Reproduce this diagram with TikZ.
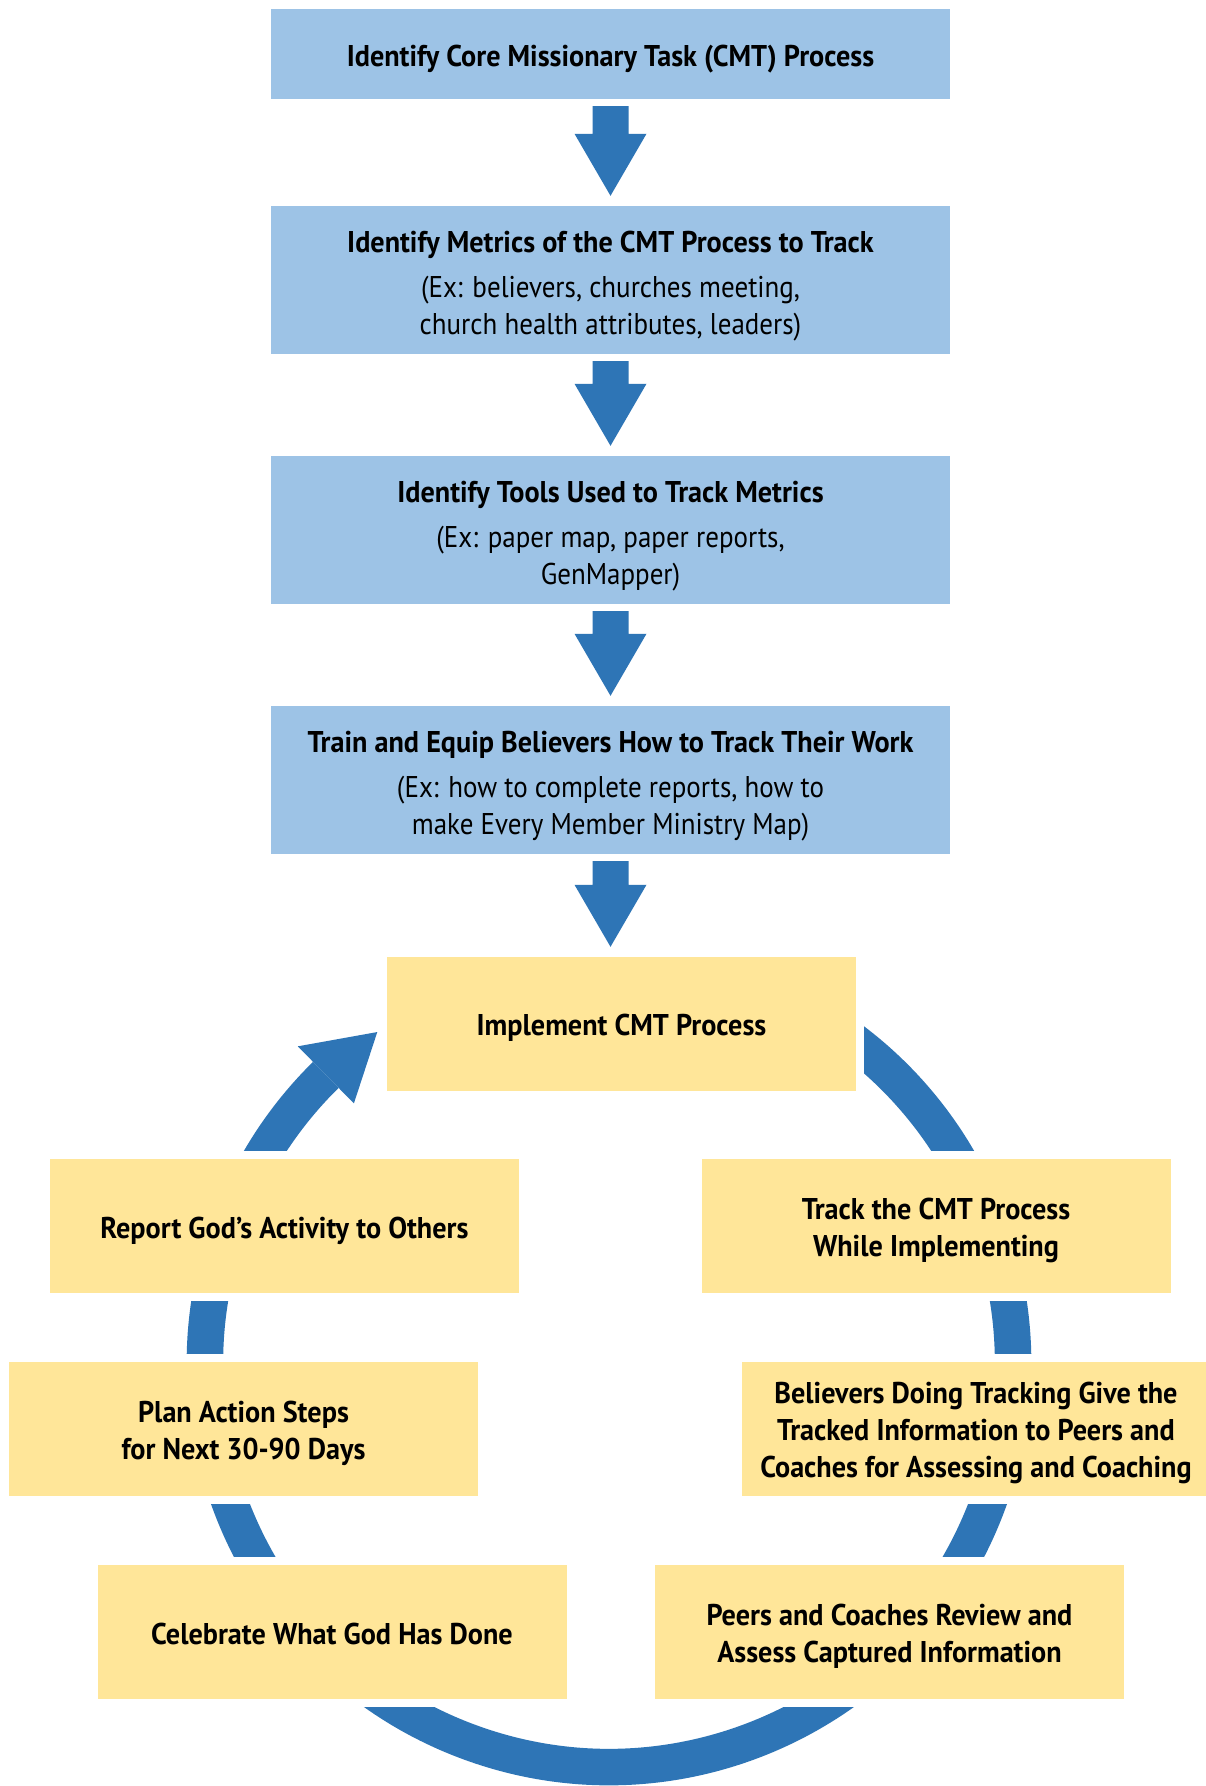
\documentclass[tikz,border=0pt]{standalone}
\usepackage{fontspec}
\setmainfont{PT Sans}[FakeStretch=0.90]
\newfontfamily\hd{PT Sans}[FakeStretch=0.94]
\usetikzlibrary{calc}
\definecolor{boxblue}{HTML}{9DC3E6}
\definecolor{boxgold}{HTML}{FFE699}
\definecolor{flowblue}{HTML}{2E75B6}
\newcommand\txt{\fontsize{30}{37}\selectfont}
\newcommand\bld{\hd\bfseries}
% block arrow pointing down from one box to the next
\newcommand\dnarrow[2]{%
  \fill[flowblue] let \p1=($(#1.south)+(0,-7)$), \p2=($(#2.north)+(0,10)$) in
    (\x1-18,\y1) -- (\x1+18,\y1) -- (\x1+18,\y2+62) -- (\x1+36,\y2+62) --
    (\x1,\y2) -- (\x1-36,\y2+62) -- (\x1-18,\y2+62) -- cycle;}
% text placed on a box, nudged down by the given amount
\newcommand\boxlabel[3]{\node[lbl] (#1-text) at ([yshift=-#2]#1.center) {#3};}
\begin{document}
\begin{tikzpicture}[x=1pt,y=1pt,
  bluebox/.style={fill=boxblue, minimum width=679pt, minimum height=148pt,
    inner sep=0pt},
  goldbox/.style={fill=boxgold, minimum width=469pt, minimum height=134pt,
    inner sep=0pt, preaction={draw=white, line width=16pt}},
  lbl/.style={inner sep=0pt, align=center, font=\txt}]
\useasboundingbox (0,0) rectangle (1206,1786);
\fill[white] (0,0) rectangle (1206,1786);

% cycle ring
\coordinate (c) at (609,423);
\draw[flowblue, line width=36.5pt] ([shift={(70:404)}]c)
  arc[start angle=70, end angle=-225.5, radius=404];

% cycle steps
\node[goldbox] (impl) at (621.5,762) {};
\node[goldbox] (track) at (936,559.5) {};
\node[goldbox] (give) at (976,357) {};
\node[goldbox] (peers) at (889.5,154) {};
\node[goldbox] (celeb) at (332,154) {};
\node[goldbox] (plan) at (243.5,357) {};
\node[goldbox] (report) at (284.5,559.5) {};
\boxlabel{impl}{4pt}{\bld Implement CMT Process}
\boxlabel{track}{4pt}{\bld Track the CMT Process\\\bld While Implementing}
\boxlabel{give}{4pt}{\bld Believers Doing Tracking Give the\\\bld Tracked Information to Peers and\\\bld Coaches for Assessing and Coaching}
\boxlabel{peers}{4pt}{\bld Peers and Coaches Review and\\\bld Assess Captured Information}
\boxlabel{celeb}{2pt}{\bld Celebrate What God Has Done}
\boxlabel{plan}{4pt}{\bld Plan Action Steps\\\bld for Next 30-90 Days}
\boxlabel{report}{4pt}{\bld Report God’s Activity to Others}

% head of the ring arrow
\fill[flowblue] ([shift={(134.5:364)}]c) -- ([shift={(125:404)}]c)
  -- ([shift={(134.5:444)}]c) -- cycle;

% preparation steps
\node[bluebox, minimum height=90pt] (cmt) at (610.5,1732) {};
\node[bluebox] (metrics) at (610.5,1506) {};
\node[bluebox] (tools) at (610.5,1256) {};
\node[bluebox] (train) at (610.5,1006) {};
\boxlabel{cmt}{5pt}{\bld Identify Core Missionary Task (CMT) Process}
\boxlabel{metrics}{6pt}{{\bld Identify Metrics of the CMT Process to Track}\\[8pt]
   (Ex: believers, churches meeting,\\church health attributes, leaders)}
\boxlabel{tools}{6pt}{{\bld Identify Tools Used to Track Metrics}\\[8pt]
   (Ex: paper map, paper reports,\\GenMapper)}
\boxlabel{train}{6pt}{{\bld Train and Equip Believers How to Track Their Work}\\[8pt]
   (Ex: how to complete reports, how to\\make Every Member Ministry Map)}

\dnarrow{cmt}{metrics}
\dnarrow{metrics}{tools}
\dnarrow{tools}{train}
\dnarrow{train}{impl}
\end{tikzpicture}
\end{document}
